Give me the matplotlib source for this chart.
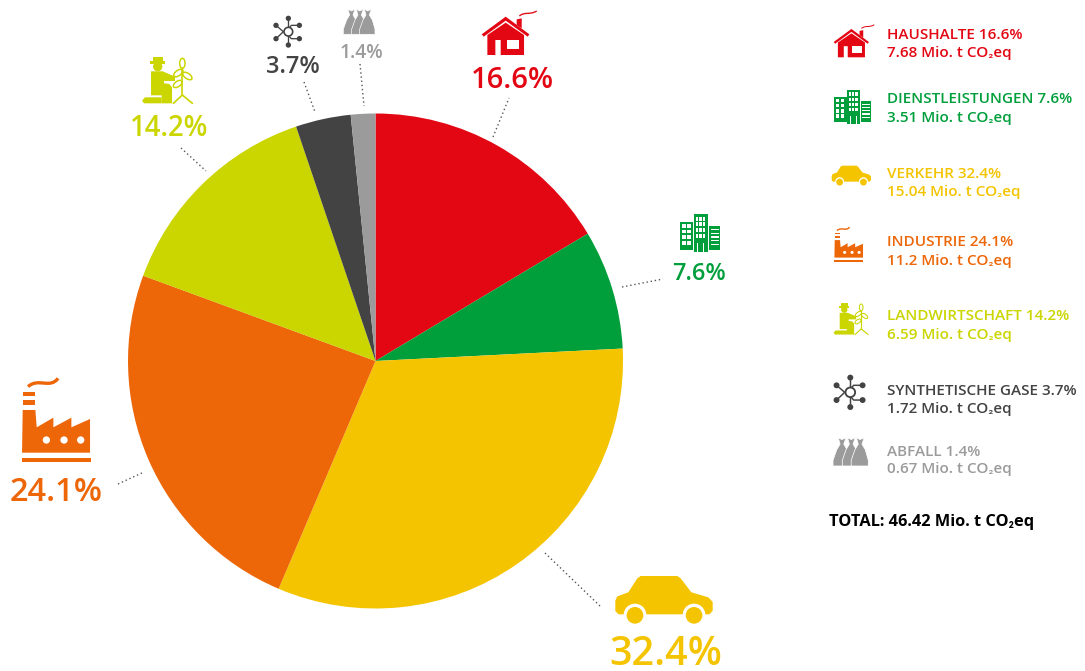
import matplotlib
matplotlib.use("Agg")
import matplotlib.pyplot as plt
from matplotlib.patches import Polygon, Circle, Ellipse, Rectangle, PathPatch
from matplotlib.path import Path
from matplotlib.transforms import Affine2D

plt.rcParams['font.family'] = ['Open Sans', 'Lato', 'DejaVu Sans']

# ---------- data ----------
categories = ["HAUSHALTE", "DIENSTLEISTUNGEN", "VERKEHR", "INDUSTRIE",
              "LANDWIRTSCHAFT", "SYNTHETISCHE GASE", "ABFALL"]
shares_printed = ["16.6%", "7.6%", "32.4%", "24.1%", "14.2%", "3.7%", "1.4%"]
tonnes_printed = ["7.68", "3.51", "15.04", "11.2", "6.59", "1.72", "0.67"]
# wedge sizes
wedge_sizes = [16.4, 7.8, 32.2, 24.2, 14.2, 3.6, 1.6]
total_label = "TOTAL: 46.42 Mio. t CO₂eq"
colors = ["#E30613", "#009F3C", "#F5C400", "#ED6608", "#CBD500", "#434343", "#9C9B9B"]
icons_order = ["house", "building", "car", "factory", "farmer", "gases", "bags"]

W, H = 1085, 671
fig = plt.figure(figsize=(W / 100, H / 100), dpi=100, facecolor="white")

# ---------- pie ----------
cx, cy, R = 375.5, 361.0, 247.5
axp = fig.add_axes([(cx - R) / W, (H - cy - R) / H, 2 * R / W, 2 * R / H])
axp.pie(wedge_sizes, colors=colors, startangle=90, counterclock=False, radius=1)
axp.set_xlim(-1, 1)
axp.set_ylim(-1, 1)
axp.set_aspect("equal")
axp.axis("off")

# ---------- overlay in pixel space ----------
ax = fig.add_axes([0, 0, 1, 1], facecolor="none")
ax.set_xlim(0, W)
ax.set_ylim(H, 0)
ax.axis("off")


def icon_house(c):
    return (65, 30, 230, 165), [
        ("curve", [(178, 48), (195, 34), (208, 46), (230, 33)], 4),
        ("poly", [(65, 103), (137, 50), (208, 103), (203, 110), (137, 62), (71, 110)], c),
        ("poly", [(170, 58), (185, 55), (185, 85), (170, 75)], c),
        ("poly", [(82, 105), (137, 68), (192, 105), (192, 165), (122, 165), (122, 120),
                  (106, 120), (106, 165), (82, 165)], c),
        ("rect", (140, 120, 38, 28), "white"),
    ]


def icon_building(c):
    s = [("rect", (660, 665, 40, 85), c), ("rect", (702, 642, 42, 113), c),
         ("rect", (747, 677, 33, 73), c)]
    for row in range(4):
        for col in range(2):
            s.append(("rect", (667 + col * 15, 672 + row * 17, 10, 11), "white"))
    for row in range(4):
        for col in range(3):
            s.append(("rect", (707 + col * 11, 650 + row * 17, 7, 12), "white"))
    for row in range(5):
        s.append(("rect", (752, 687 + row * 11, 24, 4), "white"))
    s.append(("rect", (712, 728, 3, 27), "white"))
    s.append(("rect", (730, 728, 3, 27), "white"))
    return (660, 642, 780, 755), s


def icon_car(c):
    return (256, 78, 548, 222), [
        ("poly", [(256, 152), (262, 139), (295, 127), (322, 85), (332, 78), (442, 78), (452, 85),
                  (484, 127), (535, 142), (548, 156), (548, 182), (538, 193), (266, 193),
                  (256, 183)], c),
        ("circle", (315, 195, 34), "white"),
        ("circle", (492, 195, 34), "white"),
        ("circle", (315, 196, 25), c),
        ("circle", (492, 196, 25), c),
    ]


def icon_factory(c):
    return (65, 22, 272, 278), [
        ("curve", [(84, 50), (115, 22), (150, 58), (174, 25)], 10),
        ("rect", (68, 65, 38, 13), c),
        ("rect", (68, 90, 38, 15), c),
        ("poly", [(68, 120), (106, 120), (110, 172), (160, 143), (160, 172), (214, 143),
                  (214, 172), (270, 147), (270, 248), (66, 248)], c),
        ("circle", (139, 210, 11), "white"),
        ("circle", (192, 210, 11), "white"),
        ("circle", (242, 210, 11), "white"),
        ("rect", (66, 263, 206, 14), c),
    ]


def icon_farmer(c):
    return (65, 172, 218, 312), [
        ("ell", (187, 190, 16, 30, 0), c),
        ("ell", (175, 219, 16, 32, 55), c),
        ("ell", (202, 228, 16, 32, -55), c),
        ("ell", (173, 252, 16, 30, 55), c),
        ("line", [(187, 203), (187, 285)], 5),
        ("line", [(160, 310), (187, 285), (217, 310)], 5),
        ("rect", (100, 172, 30, 16), c),
        ("rect", (90, 184, 45, 7), c),
        ("circle", (113, 200, 14), c),
        ("poly", [(93, 214), (128, 214), (165, 230), (165, 243), (132, 243), (132, 250),
                  (148, 252), (156, 262), (156, 310), (125, 310), (125, 286), (93, 286)], c),
        ("poly", [(75, 292), (125, 292), (125, 310), (72, 310), (66, 302)], c),
    ]


def icon_gases(c):
    return (462, 48, 548, 143), [
        ("line", [(505, 55), (505, 135)], 4),
        ("line", [(468, 76), (490, 95), (468, 116)], 4),
        ("line", [(538, 76), (514, 76), (505, 86)], 4),
        ("line", [(538, 116), (514, 116), (505, 106)], 4),
        ("ring", (505, 95, 13), 5),
        ("circle", (505, 55, 8), c), ("circle", (538, 76, 8), c), ("circle", (538, 116, 8), c),
        ("circle", (505, 135, 8), c), ("circle", (468, 116, 8), c), ("circle", (468, 76, 8), c),
    ]


def icon_bags(c):
    s = []
    for x in (694, 719, 743):
        s.append(("bag", [(x - 10, 28), (x, 33), (x + 11, 28), (x + 5, 45), (x + 14, 60),
                          (x + 22, 88), (x + 22, 103), (x - 24, 103), (x - 24, 88),
                          (x - 14, 60), (x - 5, 45)], c))
    return (670, 28, 765, 103), s


makers = {"house": icon_house, "building": icon_building, "car": icon_car, "factory": icon_factory,
          "farmer": icon_farmer, "gases": icon_gases, "bags": icon_bags}


def draw_icon(name, box, c):
    (x0, y0, x1, y1), shapes = makers[name](c)
    X0, Y0, X1, Y1 = box
    sx, sy = (X1 - X0) / (x1 - x0), (Y1 - Y0) / (y1 - y0)
    tr = Affine2D().translate(-x0, -y0).scale(sx, sy).translate(X0, Y0) + ax.transData
    pt = sx * 0.72
    for kind, g, st in shapes:
        if kind == "poly":
            p = Polygon(g, closed=True, fc=st, ec="none")
        elif kind == "bag":
            p = Polygon(g, closed=True, fc=st, ec="white", lw=max(0.4, 2 * pt), joinstyle="round")
        elif kind == "rect":
            p = Rectangle(g[:2], g[2], g[3], fc=st, ec="none")
        elif kind == "circle":
            p = Circle(g[:2], g[2], fc=st, ec="none")
        elif kind == "ring":
            p = Circle(g[:2], g[2], fc="white", ec=c, lw=st * pt)
        elif kind == "ell":
            p = Ellipse(g[:2], g[2], g[3], angle=g[4], fc="white", ec=c, lw=4.5 * pt)
        elif kind == "line":
            p = PathPatch(Path(g), fc="none", ec=c, lw=st * pt, capstyle="round", joinstyle="round")
        elif kind == "curve":
            p = PathPatch(Path(g, [Path.MOVETO, Path.CURVE4, Path.CURVE4, Path.CURVE4]),
                          fc="none", ec=c, lw=st * pt)
        p.set_transform(tr)
        ax.add_patch(p)


# ---------- callouts around the pie ----------
big_icon_boxes = [(481.7, 10, 536.7, 55), (680, 214, 720, 251.7), (615.3, 576, 712.7, 624),
                  (21.7, 377.3, 90.7, 462.7), (141.7, 57.3, 192.7, 104),
                  (274, 16, 302.7, 47.7), (343.3, 9.3, 375, 34.3)]
label_pos = [(512, 88.5, 21), (699, 280, 17), (665.5, 665, 28.5), (56, 501, 23.5),
             (169, 135.7, 19.8), (293, 73.3, 17), (361.5, 58.3, 13.8)]
leaders = [((493, 137), (509, 98)), ((622, 287), (663, 279)), ((545, 553), (601, 607)),
           ((118, 484), (144, 472)), ((181, 148), (206, 171)), ((304, 82), (315, 112)),
           ((360, 64), (364, 106))]

for i, name in enumerate(icons_order):
    draw_icon(name, big_icon_boxes[i], colors[i])
    x, y, fs = label_pos[i]
    ax.text(x, y, shares_printed[i], color=colors[i], fontsize=fs, fontweight="semibold",
            ha="center", va="baseline")
    (a, b), (c_, d) = leaders[i]
    ax.plot([a, c_], [b, d], color="#555555", lw=1, ls=(0, (1, 2)))

# ---------- legend ----------
leg_icon_boxes = [(833.7, 24, 874.3, 57.3), (834.3, 90, 871, 124), (831.7, 165.7, 871, 185.7),
                  (834.3, 226.7, 863.3, 261.7), (833.3, 303.3, 868.3, 335),
                  (834.3, 375, 866.3, 410), (833, 437.7, 868.3, 466)]
leg_base = [(39.3, 57.3), (102.7, 121.7), (177.7, 196), (246, 265),
            (320, 339), (395, 413), (455.7, 473)]
LEG_FS = 11
for i, name in enumerate(icons_order):
    draw_icon(name, leg_icon_boxes[i], colors[i])
    b1, b2 = leg_base[i]
    ax.text(887, b1, f"{categories[i]} {shares_printed[i]}", color=colors[i], fontsize=LEG_FS,
            fontweight="semibold", va="baseline")
    ax.text(887, b2, f"{tonnes_printed[i]} Mio. t CO₂eq", color=colors[i], fontsize=LEG_FS,
            fontweight="semibold", va="baseline")
ax.text(829, 526, total_label, color="black", fontsize=11.8, fontweight="bold", va="baseline")

fig.savefig("out.png", dpi=100, facecolor="white")
